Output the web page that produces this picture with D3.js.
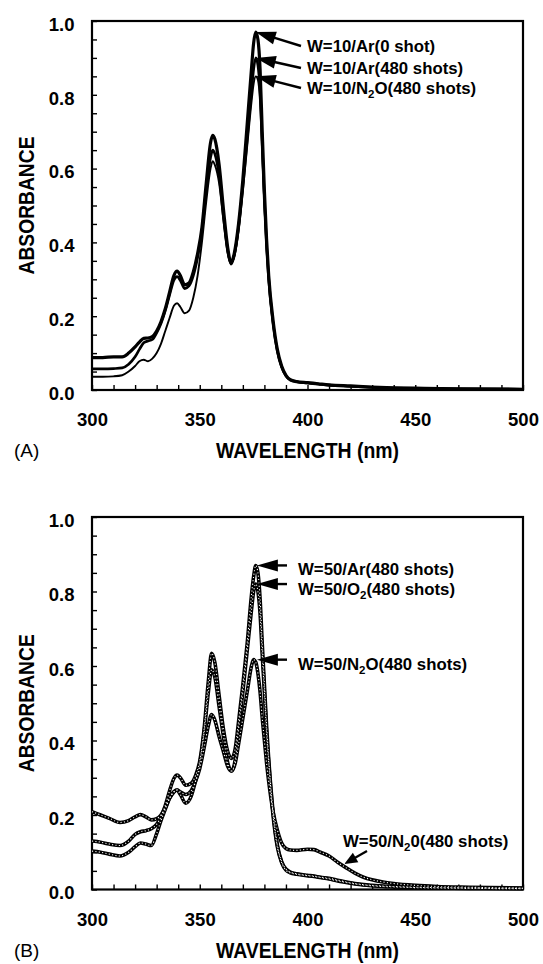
<!DOCTYPE html>
<html>
<head>
<meta charset="utf-8">
<script src="https://cdn.jsdelivr.net/npm/d3@7"></script>
<style>
  html, body { margin: 0; padding: 0; background: #fff; }
  svg { display: block; }
  text { font-family: "Liberation Sans", Arial, Helvetica, sans-serif; fill: #000; }
</style>
</head>
<body>
<svg id="chart" width="543" height="964"></svg>
<script>
// ---------- Panel A: W=10 films ----------
const wavelengthA = [300, 305, 310, 314, 317, 320, 322, 324, 326, 328, 330, 332, 334, 336, 338, 339.5, 341, 343, 345, 347, 349, 351, 353, 355, 356, 357, 359, 361, 363, 364.5, 366, 368, 370, 372, 374, 375, 376, 377, 378, 379, 380, 381, 382, 384, 386, 388, 390, 392, 395, 400, 405, 410, 420, 430, 440, 450, 470, 500];
const absA_Ar0 = [0.088, 0.088, 0.09, 0.09, 0.1, 0.117, 0.13, 0.14, 0.141, 0.145, 0.16, 0.185, 0.22, 0.265, 0.31, 0.322, 0.31, 0.285, 0.29, 0.32, 0.37, 0.44, 0.56, 0.67, 0.69, 0.68, 0.61, 0.49, 0.385, 0.345, 0.37, 0.45, 0.57, 0.72, 0.87, 0.94, 0.97, 0.95, 0.87, 0.7, 0.54, 0.41, 0.31, 0.19, 0.11, 0.065, 0.04, 0.028, 0.023, 0.02, 0.017, 0.014, 0.011, 0.008, 0.006, 0.005, 0.003, 0.002];
const absA_Ar480 = [0.057, 0.057, 0.058, 0.06, 0.07, 0.09, 0.11, 0.128, 0.133, 0.137, 0.155, 0.18, 0.215, 0.258, 0.298, 0.307, 0.297, 0.275, 0.282, 0.31, 0.36, 0.43, 0.54, 0.63, 0.65, 0.64, 0.58, 0.47, 0.375, 0.345, 0.365, 0.44, 0.55, 0.68, 0.81, 0.87, 0.90, 0.88, 0.81, 0.66, 0.51, 0.39, 0.3, 0.18, 0.105, 0.062, 0.038, 0.027, 0.022, 0.019, 0.016, 0.013, 0.01, 0.007, 0.005, 0.004, 0.003, 0.002];
const absA_N2O480 = [0.036, 0.036, 0.037, 0.04, 0.05, 0.065, 0.078, 0.082, 0.078, 0.085, 0.1, 0.125, 0.16, 0.195, 0.228, 0.235, 0.225, 0.208, 0.215, 0.25, 0.31, 0.4, 0.51, 0.6, 0.62, 0.61, 0.56, 0.46, 0.37, 0.34, 0.36, 0.43, 0.54, 0.66, 0.78, 0.83, 0.85, 0.84, 0.78, 0.64, 0.5, 0.385, 0.295, 0.18, 0.105, 0.062, 0.038, 0.027, 0.022, 0.019, 0.016, 0.013, 0.01, 0.007, 0.005, 0.004, 0.003, 0.002];

// ---------- Panel B: W=50 films, 480 shots ----------
const wavelengthB = [300, 304, 308, 313, 317, 320, 322.5, 325, 327.5, 330, 332, 334, 336, 338, 339.5, 341, 343.5, 346, 348, 350, 352, 354, 355.5, 357, 359, 361, 363, 364.8, 366.5, 368, 370, 372, 374, 375, 376, 377, 378, 379, 380, 381, 382, 384, 386, 388, 390, 392, 395, 400, 403, 406, 410, 414, 418, 422, 426, 430, 435, 440, 450, 460, 475, 500];
const absB_Ar = [0.13, 0.127, 0.122, 0.118, 0.13, 0.148, 0.155, 0.158, 0.163, 0.175, 0.195, 0.225, 0.265, 0.298, 0.307, 0.3, 0.28, 0.285, 0.305, 0.345, 0.43, 0.56, 0.634, 0.61, 0.52, 0.43, 0.37, 0.352, 0.38, 0.45, 0.55, 0.66, 0.79, 0.84, 0.87, 0.85, 0.78, 0.66, 0.55, 0.44, 0.35, 0.21, 0.12, 0.075, 0.055, 0.047, 0.042, 0.038, 0.036, 0.033, 0.03, 0.025, 0.02, 0.016, 0.013, 0.011, 0.009, 0.008, 0.006, 0.005, 0.004, 0.003];
const absB_O2 = [0.103, 0.1, 0.095, 0.09, 0.1, 0.115, 0.125, 0.122, 0.118, 0.15, 0.185, 0.215, 0.245, 0.262, 0.267, 0.255, 0.232, 0.25, 0.29, 0.335, 0.42, 0.53, 0.59, 0.57, 0.49, 0.41, 0.34, 0.318, 0.35, 0.43, 0.53, 0.64, 0.75, 0.8, 0.82, 0.8, 0.74, 0.63, 0.53, 0.42, 0.34, 0.2, 0.115, 0.072, 0.052, 0.045, 0.041, 0.037, 0.035, 0.032, 0.028, 0.023, 0.019, 0.015, 0.012, 0.01, 0.008, 0.007, 0.005, 0.004, 0.003, 0.002];
const absB_N2O = [0.209, 0.2, 0.191, 0.18, 0.185, 0.195, 0.201, 0.195, 0.187, 0.19, 0.2, 0.22, 0.245, 0.262, 0.267, 0.262, 0.255, 0.265, 0.29, 0.325, 0.38, 0.44, 0.47, 0.455, 0.41, 0.37, 0.33, 0.318, 0.34, 0.39, 0.46, 0.53, 0.6, 0.617, 0.61, 0.58, 0.53, 0.46, 0.4, 0.34, 0.29, 0.21, 0.16, 0.125, 0.11, 0.106, 0.105, 0.108, 0.107, 0.1, 0.09, 0.073, 0.058, 0.044, 0.033, 0.026, 0.02, 0.016, 0.011, 0.008, 0.006, 0.004];

// Axis tick values
const xTicks = d3.range(300, 501, 10);
const xLabels = [300, 350, 400, 450, 500];
const yTicks = d3.range(0, 21).map(i => i / 20);
const yLabels = [0, 0.2, 0.4, 0.6, 0.8, 1.0];

const svg = d3.select("#chart");

function drawPanel(opts) {
  const { top, bottom, left, right, tag } = opts;
  const x = d3.scaleLinear().domain([300, 500]).range([left, right]);
  const y = d3.scaleLinear().domain([0, 1]).range([bottom, top]);
  const g = svg.append("g");

  // bottom axis: inward minor ticks every 10 nm, labels every 50 nm
  const xa = g.append("g").attr("transform", `translate(0,${bottom})`)
    .call(d3.axisBottom(x).tickValues(xTicks).tickSizeInner(-5).tickSizeOuter(0).tickPadding(23)
      .tickFormat(d => xLabels.includes(d) ? d3.format("d")(d) : ""));
  xa.select(".domain").remove();
  xa.selectAll(".tick line").attr("stroke", "#000").attr("stroke-width", 1.4);
  xa.selectAll(".tick text").attr("font-size", "18.5px").attr("font-weight", "bold");

  // left axis: inward ticks every 0.05, labels every 0.2
  const ya = g.append("g").attr("transform", `translate(${left},0)`)
    .call(d3.axisLeft(y).tickValues(yTicks).tickSizeInner(-5).tickSizeOuter(0).tickPadding(17.5)
      .tickFormat(d => yLabels.some(v => Math.abs(v - d) < 1e-9) ? d3.format(".1f")(d) : ""));
  ya.select(".domain").remove();
  ya.selectAll(".tick line").attr("stroke", "#000").attr("stroke-width", 1.4);
  ya.selectAll(".tick text").attr("font-size", "18.5px").attr("font-weight", "bold").attr("dy", "0.5em");

  // plot frame
  g.append("rect").attr("x", left).attr("y", top)
    .attr("width", right - left).attr("height", bottom - top)
    .attr("fill", "none").attr("stroke", "#000").attr("stroke-width", 2.2);

  // axis titles
  g.append("text").attr("x", (left + right) / 2).attr("y", bottom + 68)
    .attr("text-anchor", "middle").attr("font-size", "22px").attr("font-weight", "bold")
    .attr("textLength", 183).attr("lengthAdjust", "spacingAndGlyphs")
    .text("WAVELENGTH (nm)");
  g.append("text")
    .attr("transform", `translate(${left - 58},${(top + bottom) / 2}) rotate(-90)`)
    .attr("text-anchor", "middle").attr("font-size", "22px").attr("font-weight", "bold")
    .attr("textLength", 138).attr("lengthAdjust", "spacingAndGlyphs")
    .text("ABSORBANCE");
  g.append("text").attr("x", 14).attr("y", bottom + 67)
    .attr("font-size", "19px").text(tag);

  return { g, x, y };
}

function arrow(g, x1, y1, x2, y2, headLen, headHalf, width) {
  // shaft from (x1,y1) to the head base, filled triangular head at (x2,y2)
  const dx = x2 - x1, dy = y2 - y1, L = Math.hypot(dx, dy);
  const ux = dx / L, uy = dy / L;
  const bx = x2 - ux * headLen, by = y2 - uy * headLen;
  g.append("line").attr("x1", x1).attr("y1", y1).attr("x2", bx + ux).attr("y2", by + uy)
    .attr("stroke", "#000").attr("stroke-width", width);
  g.append("path")
    .attr("d", `M${x2},${y2}L${bx - uy * headHalf},${by + ux * headHalf}L${bx + uy * headHalf},${by - ux * headHalf}Z`)
    .attr("fill", "#000");
}

function label(g, xPos, yPos, pre, sub, post) {
  const t = g.append("text").attr("x", xPos).attr("y", yPos)
    .attr("font-size", "16.8px").attr("font-weight", "bold");
  t.append("tspan").text(pre);
  if (sub) {
    t.append("tspan").attr("font-size", "11.5px").attr("dy", 4).text(sub);
    t.append("tspan").attr("dy", -4).text(post);
  }
  return t;
}

// ---------- Panel A ----------
const A = drawPanel({ top: 21, bottom: 390, left: 92, right: 523, tag: "(A)" });
const lineA = d3.line().x((d, i) => A.x(wavelengthA[i])).y(d => A.y(d)).curve(d3.curveMonotoneX);
[[absA_Ar0, 3.2], [absA_Ar480, 2.7], [absA_N2O480, 1.9]].forEach(([s, w]) => {
  A.g.append("path").attr("d", lineA(s)).attr("fill", "none")
    .attr("stroke", "#000").attr("stroke-width", w).attr("stroke-linejoin", "round");
});
const peakA = [absA_Ar0, absA_Ar480, absA_N2O480].map(s => d3.max(s));
const rowsA = [46, 68, 88];
peakA.forEach((p, i) => {
  arrow(A.g, 301, rowsA[i], A.x(376), A.y(p), 20, 6.5, 2.4);
});
label(A.g, 307, rowsA[0] + 6, "W=10/Ar(0 shot)");
label(A.g, 307, rowsA[1] + 6, "W=10/Ar(480 shots)");
label(A.g, 307, rowsA[2] + 6, "W=10/N", "2", "O(480 shots)");

// ---------- Panel B ----------
const B = drawPanel({ top: 517, bottom: 889.5, left: 92, right: 523, tag: "(B)" });
const lineB = d3.line().x((d, i) => B.x(wavelengthB[i])).y(d => B.y(d)).curve(d3.curveMonotoneX);
// each trace drawn as a chain of small open rings
[absB_Ar, absB_O2, absB_N2O].forEach(s => {
  B.g.append("path").attr("d", lineB(s)).attr("fill", "none")
    .attr("stroke", "#000").attr("stroke-width", 3.6).attr("stroke-linejoin", "round");
});
[absB_Ar, absB_O2, absB_N2O].forEach(s => {
  B.g.append("path").attr("d", lineB(s)).attr("fill", "none")
    .attr("stroke", "#fff").attr("stroke-width", 1.1).attr("stroke-dasharray", "1.1,2.3");
});
const peakB = [absB_Ar, absB_O2, absB_N2O].map(s => d3.max(s));
peakB.forEach(p => {
  arrow(B.g, 287, B.y(p), B.x(376.5), B.y(p), 21, 6, 2.4);
});
label(B.g, 298, B.y(peakB[0]) + 10, "W=50/Ar(480 shots)");
label(B.g, 298, B.y(peakB[1]) + 11, "W=50/O", "2", "(480 shots)");
label(B.g, 298, B.y(peakB[2]) + 10, "W=50/N", "2", "O(480 shots)");
// tail annotation for the N2O trace
const tailWl = 418;
const tailVal = absB_N2O[wavelengthB.indexOf(tailWl)];
arrow(B.g, 367, 851, B.x(tailWl) - 2, B.y(tailVal) - 4, 13, 5.5, 2.2);
label(B.g, 343, 847, "W=50/N", "2", "0(480 shots)");
</script>
</body>
</html>
